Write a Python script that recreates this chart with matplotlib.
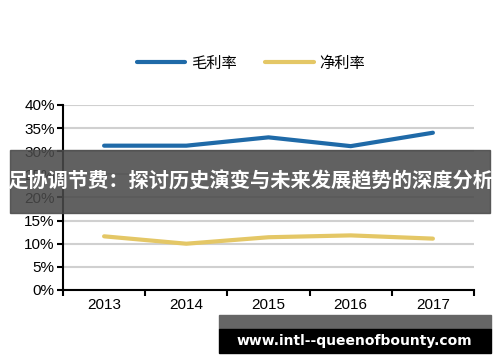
import matplotlib.pyplot as plt
from matplotlib.patches import Rectangle

plt.rcParams['font.family'] = ['Liberation Sans', 'Noto Sans CJK SC', 'DejaVu Sans']

years = ["2013", "2014", "2015", "2016", "2017"]
gross_margin = [31.2, 31.2, 33.0, 31.1, 34.0]
net_margin = [11.6, 10.0, 11.4, 11.8, 11.1]
series_names = ["毛利率", "净利率"]
banner_text = "足协调节费：探讨历史演变与未来发展趋势的深度分析"
watermark = "www.intl--queenofbounty.com"

blue = "#1f6aa8"
yellow = "#e4c766"

fig = plt.figure(figsize=(5, 3.62), dpi=100)
ax = fig.add_axes([0.126, 0.199, 0.822, 0.511])

x = range(len(years))
ax.plot(x, gross_margin, color=blue, lw=3, solid_capstyle="round", label=series_names[0])
ax.plot(x, net_margin, color=yellow, lw=3, solid_capstyle="round", label=series_names[1])

ax.set_ylim(0, 40)
ax.set_xlim(-0.5, 4.5)
ax.set_yticks(range(0, 41, 5))
ax.set_yticklabels([f"{v}%" for v in range(0, 41, 5)])
ax.set_xticks([i - 0.5 for i in range(6)], minor=False)
ax.set_xticklabels([])
ax.set_xticks(list(x), minor=True)
ax.set_xticklabels(years, minor=True)
ax.tick_params(axis="x", which="minor", length=0, labelsize=11, pad=6)
ax.tick_params(axis="x", which="major", length=4, width=1.5, direction="out")
ax.tick_params(axis="y", length=4, width=1.5, direction="out", labelsize=11, pad=2)

ax.grid(axis="y", color="#d0d0d0", lw=1.5)
ax.set_axisbelow(True)
for s in ["top", "right"]:
    ax.spines[s].set_visible(False)
for s in ["left", "bottom"]:
    ax.spines[s].set_linewidth(1.5)

fig.legend(loc="center", bbox_to_anchor=(0.502, 0.826), ncol=2, frameon=False,
           prop={"family": "Noto Sans CJK SC", "size": 11},
           handlelength=3.2, columnspacing=1.8, handletextpad=0.4)

# overlay banner
fig.patches.append(Rectangle((10 / 500, 1 - 213 / 362), 480 / 500, 63 / 362,
                             transform=fig.transFigure, color="#4a4a4a", alpha=0.87, zorder=5))
fig.text(0.5, 1 - 181 / 362, banner_text, color="white", fontsize=14.6, fontweight="bold",
         family="Noto Sans CJK SC", ha="center", va="center", zorder=6)

# watermark box
fig.patches.append(Rectangle((219 / 500, 1 - 329 / 362), 272 / 500, 14 / 362,
                             transform=fig.transFigure, color="#666666", zorder=5))
fig.patches.append(Rectangle((219 / 500, 1 - 353 / 362), 272 / 500, 24 / 362,
                             transform=fig.transFigure, color="black", zorder=5))
fig.text(354 / 500, 1 - 341 / 362, watermark, color="white", fontsize=10, fontweight="bold",
         family="DejaVu Sans", ha="center", va="center", zorder=6)

fig.savefig("out.png", dpi=100)
